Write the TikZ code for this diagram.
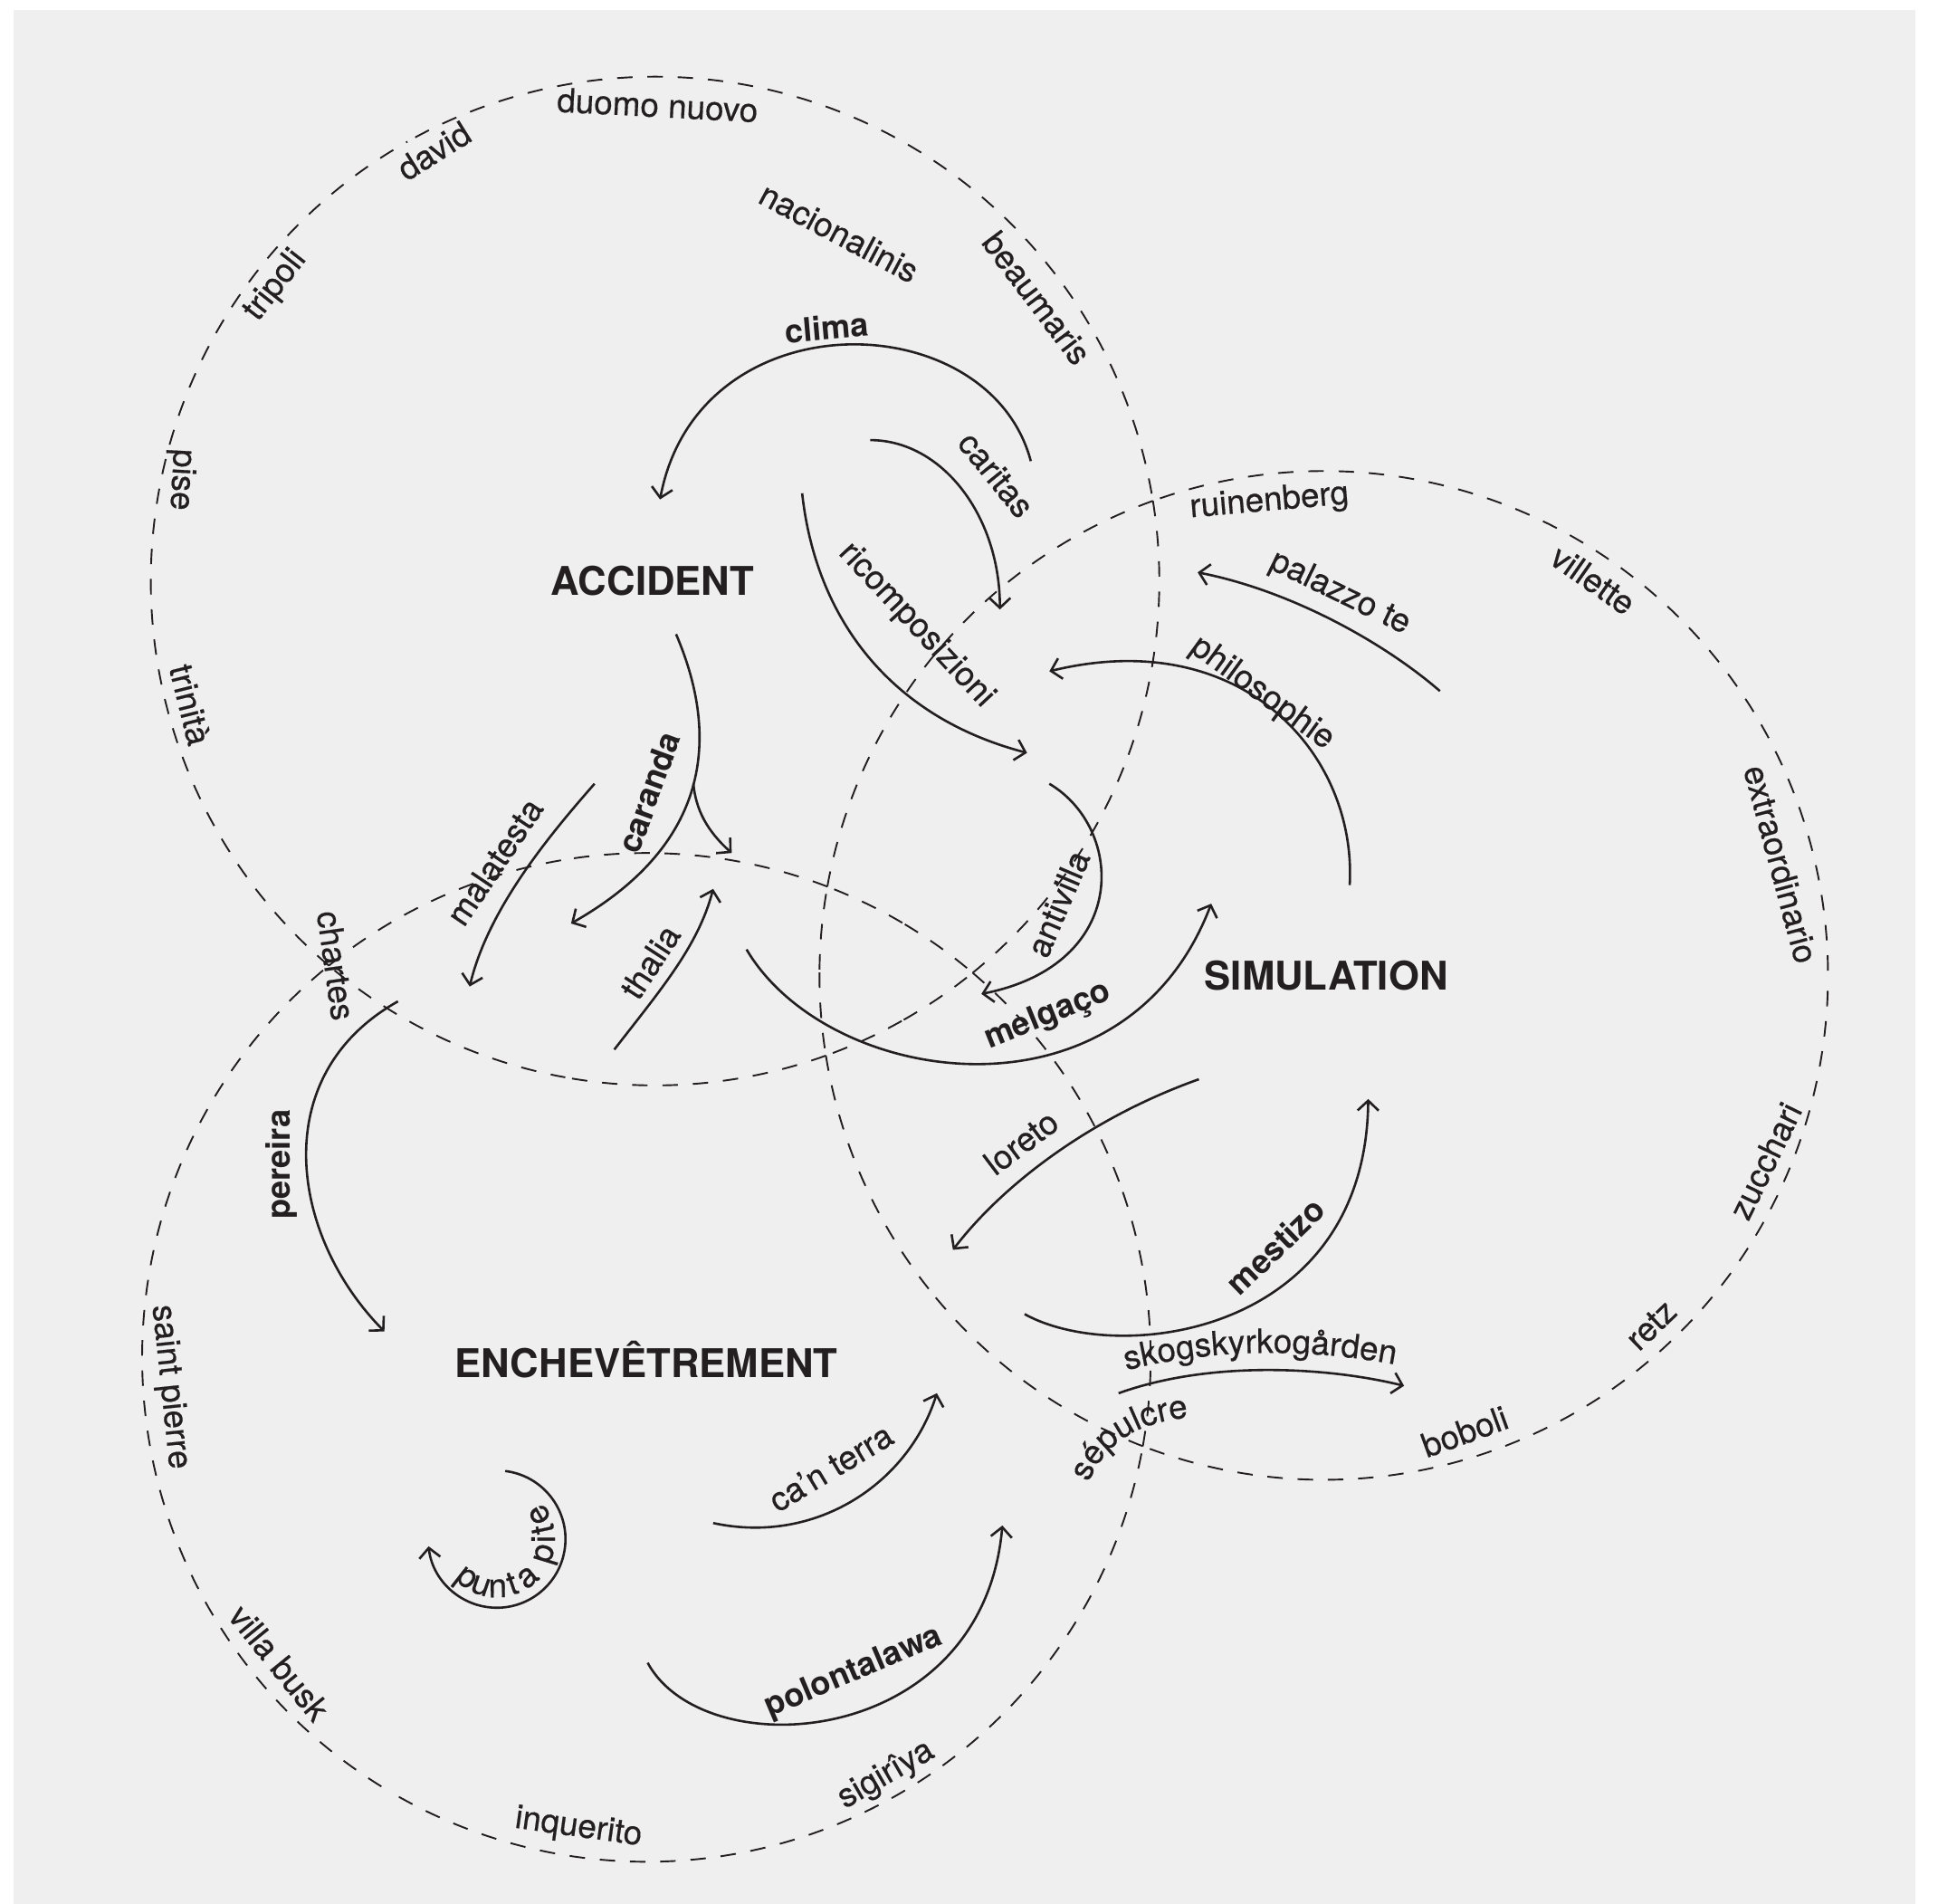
\documentclass[tikz,border=0pt]{standalone}
\usepackage{fontspec}
\setmainfont{TeX Gyre Heros}
\newfontfamily\labfont{TeX Gyre Heros}[FakeBold=0.5]
\usetikzlibrary{arrows.meta,decorations.text}
\definecolor{paper}{HTML}{EFEFEF}
\definecolor{ink}{HTML}{231F20}
\begin{document}
\begin{tikzpicture}[x=1pt,y=1pt,
  ring/.style={circle, minimum size=816pt, inner sep=0pt},
  dashline/.style={draw=ink, line width=1.4pt, dash pattern=on 12.5pt off 12pt},
  gapstart/.style={dash phase=18.5pt},
  flow/.style={draw=ink, line width=1.9pt, -{Straight Barb[length=8pt,width=17pt]}},
  lbl/.style={font=\labfont\fontsize{27}{30}\selectfont, text=ink, inner sep=0pt},
  blbl/.style={font=\fontsize{26.5}{30}\selectfont\bfseries, text=ink, inner sep=0pt},
  ttl/.style={font=\fontsize{32}{36}\selectfont\bfseries, text=ink, inner sep=0pt},
  curvetext/.style={decorate, decoration={text along path, text color=ink, text align=center, text={|\labfont\fontsize{27}{30}\selectfont|#1}}}
]
\useasboundingbox (0,0) rectangle (1568,-1540);
\fill[white] (0,0) rectangle (1568,-1540);
\fill[paper] (11.3,-8.4) rectangle (1549.5,-1540);

% ring centres (named)
\node[ring] (ringA) at (530,-470) {};
\node[ring] (ringS) at (1071,-789) {};
\node[ring] (ringE) at (523,-1098) {};

% dashed rings, drawn arc by arc so that dashes meet at the crossings
% ring A: crossings f=9.14, d=-50.97, e=-70.2, a=-130.31
\draw[dashline] (ringA.center) ++(9.14:408) arc[start angle=9.14, delta angle=-30.06, radius=408];
\draw[dashline] (ringA.center) ++(-50.97:408) arc[start angle=-50.97, delta angle=30.06, radius=408];
\draw[dashline,gapstart] (ringA.center) ++(-50.97:408) arc[start angle=-50.97, delta angle=-9.61, radius=408];
\draw[dashline,gapstart] (ringA.center) ++(-70.2:408) arc[start angle=-70.2, delta angle=9.61, radius=408];
\draw[dashline] (ringA.center) ++(-70.2:408) arc[start angle=-70.2, delta angle=-30.05, radius=408];
\draw[dashline,gapstart] (ringA.center) ++(-130.31:408) arc[start angle=-130.31, delta angle=30.05, radius=408];
\draw[dashline] (ringA.center) ++(229.69:408) arc[start angle=229.69, delta angle=-110.27, radius=408];
\draw[dashline,gapstart] (ringA.center) ++(9.14:408) arc[start angle=9.14, delta angle=110.28, radius=408];
% ring E: crossings a=129.03, c=68.98, d=49.69, b=-10.14
\draw[dashline] (ringE.center) ++(129.03:408) arc[start angle=129.03, delta angle=-30.02, radius=408];
\draw[dashline] (ringE.center) ++(68.98:408) arc[start angle=68.98, delta angle=30.03, radius=408];
\draw[dashline,gapstart] (ringE.center) ++(68.98:408) arc[start angle=68.98, delta angle=-9.64, radius=408];
\draw[dashline,gapstart] (ringE.center) ++(49.69:408) arc[start angle=49.69, delta angle=9.65, radius=408];
\draw[dashline] (ringE.center) ++(49.69:408) arc[start angle=49.69, delta angle=-29.91, radius=408];
\draw[dashline] (ringE.center) ++(-10.14:408) arc[start angle=-10.14, delta angle=29.92, radius=408];
\draw[dashline,gapstart] (ringE.center) ++(-10.14:408) arc[start angle=-10.14, delta angle=-110.42, radius=408];
\draw[dashline,gapstart] (ringE.center) ++(129.03:408) arc[start angle=129.03, delta angle=110.42, radius=408];
% ring S: crossings f=109.8, c=169.86, e=189.14, b=248.98
\draw[dashline] (ringS.center) ++(109.8:408) arc[start angle=109.8, delta angle=30.03, radius=408];
\draw[dashline] (ringS.center) ++(169.86:408) arc[start angle=169.86, delta angle=-30.03, radius=408];
\draw[dashline,gapstart] (ringS.center) ++(169.86:408) arc[start angle=169.86, delta angle=9.64, radius=408];
\draw[dashline,gapstart] (ringS.center) ++(189.14:408) arc[start angle=189.14, delta angle=-9.64, radius=408];
\draw[dashline] (ringS.center) ++(189.14:408) arc[start angle=189.14, delta angle=29.92, radius=408];
\draw[dashline] (ringS.center) ++(248.98:408) arc[start angle=248.98, delta angle=-29.92, radius=408];
\draw[dashline,gapstart] (ringS.center) ++(248.98:408) arc[start angle=248.98, delta angle=110.41, radius=408];
\draw[dashline,gapstart] (ringS.center) ++(109.8:408) arc[start angle=109.8, delta angle=-110.41, radius=408];

% titles
\node[ttl] (accident) at (528,-470) {ACCIDENT};
\node[ttl] (simulation) at (1073,-789) {SIMULATION};
\node[ttl] (enchev) at (523,-1100) {ENCHEVÊTREMENT};

% ring labels
\node[lbl, rotate=-3] (duomo) at (532,-85) {duomo nuovo};
\node[lbl, rotate=32] (david) at (351,-122) {david};
\node[lbl, rotate=52] (tripoli) at (223,-231) {tripoli};
\node[lbl, rotate=-93] (pise) at (146,-388) {pise};
\node[lbl, rotate=-76] (trinita) at (154,-570) {trinità};
\node[lbl, rotate=-28] (nacion) at (679,-188) {nacionalinis};
\node[lbl, rotate=-53] (beaumaris) at (839,-241) {beaumaris};
\node[lbl, rotate=-82] (chartes) at (272,-781) {chartes};
\node[lbl, rotate=5] (ruinen) at (1027,-406) {ruinenberg};
\node[lbl, rotate=-35] (villette) at (1289,-469) {villette};
\node[lbl, rotate=-75] (extra) at (1441,-699) {extraordinario};
\node[lbl, rotate=64] (zucchari) at (1428,-939) {zucchari};
\node[lbl, rotate=44] (retz) at (1336,-1072) {retz};
\node[lbl, rotate=20] (boboli) at (1185,-1158) {boboli};
\node[lbl, rotate=-84] (stpierre) at (137,-1122) {saint pierre};
\node[lbl, rotate=-51] (villabusk) at (226,-1345) {villa busk};
\node[lbl, rotate=-8] (inquerito) at (468,-1479) {inquerito};
\node[lbl, rotate=30] (sigiriya) at (717,-1436) {sigirîya};
\path[curvetext={sépulcre}] (878,-1205) .. controls (890,-1175) and (910,-1150) .. (968,-1146);

% arrow end points
\coordinate (climaS) at (834,-373);   \coordinate (climaE) at (534,-404);
\coordinate (caritasS) at (704,-356); \coordinate (caritasE) at (809,-493);
\coordinate (ricoS) at (649,-399);    \coordinate (ricoE) at (831,-609);
\coordinate (carS) at (547,-513);     \coordinate (carE) at (462,-747);
\coordinate (carK) at (561,-634);     \coordinate (carB) at (592,-690);
\coordinate (malaS) at (481,-634);    \coordinate (malaE) at (380,-798);
\coordinate (thalS) at (497,-849);    \coordinate (thalE) at (577,-719);
\coordinate (melS) at (604,-768);     \coordinate (melE) at (980,-731);
\coordinate (antS) at (849,-634);     \coordinate (antE) at (794,-804);
\coordinate (palS) at (1165,-559);    \coordinate (palE) at (969,-463);
\coordinate (phiS) at (1092,-716);    \coordinate (phiE) at (849,-543);
\coordinate (lorS) at (970,-873);     \coordinate (lorE) at (771,-1011);
\coordinate (mesS) at (829,-1063);    \coordinate (mesE) at (1107,-889);
\coordinate (skoS) at (905,-1127);    \coordinate (skoE) at (1136,-1121);
\coordinate (perS) at (322,-810);     \coordinate (perE) at (311,-1077);
\coordinate (canS) at (577,-1232);    \coordinate (canE) at (758,-1127);
\coordinate (polS) at (524,-1345);    \coordinate (polE) at (811,-1234);
\coordinate (punC) at (402,-1245);

% arrows
\draw[flow] (climaS) .. controls (800,-245) and (565,-240) .. (climaE);
\draw[flow] (caritasS) .. controls (762,-356) and (809,-417) .. (caritasE);
\draw[flow] (ricoS) .. controls (660,-500) and (720,-580) .. (ricoE);
\draw[flow] (carS) .. controls (580,-590) and (580,-680) .. (carE);
\draw[flow] (carK) .. controls (563,-655) and (572,-672) .. (carB);
\draw[flow] (malaS) .. controls (445,-675) and (395,-735) .. (malaE);
\draw[flow] (thalS) .. controls (535,-800) and (565,-765) .. (thalE);
\draw[flow] (melS) .. controls (670,-880) and (910,-915) .. (melE);
\draw[flow] (antS) .. controls (910,-670) and (915,-780) .. (antE);
\draw[flow] (palS) .. controls (1120,-520) and (1045,-478) .. (palE);
\draw[flow] (phiS) .. controls (1098,-610) and (1005,-505) .. (phiE);
\draw[flow] (lorS) .. controls (880,-905) and (810,-960) .. (lorE);
\draw[flow] (mesS) .. controls (905,-1105) and (1105,-1080) .. (mesE);
\draw[flow] (skoS) .. controls (980,-1100) and (1075,-1106) .. (skoE);
\draw[flow] (perS) .. controls (215,-870) and (235,-1000) .. (perE);
\draw[flow] (canS) .. controls (660,-1250) and (735,-1200) .. (canE);
\draw[flow] (polS) .. controls (570,-1430) and (795,-1415) .. (polE);
\draw[flow] (punC) ++(83:55.5) arc[start angle=83, end angle=-174, radius=55.5];

% arrow labels
\node[blbl, rotate=5] (clima) at (669,-265) {clima};
\node[lbl, rotate=-51] (caritas) at (806,-384) {caritas};
\node[lbl, rotate=-47] (ricomp) at (741,-506) {ricomposizioni};
\node[blbl, rotate=70] (caranda) at (525,-641) {caranda};
\node[lbl, rotate=56] (malatesta) at (400,-697) {malatesta};
\node[lbl, rotate=57] (thalia) at (526,-778) {thalia};
\node[blbl, rotate=22] (melgaco) at (848,-822) {melgaço};
\node[lbl, rotate=67] (antivilla) at (856,-731) {antivilla};
\node[lbl, rotate=-26] (palazzo) at (1084,-480) {palazzo te};
\node[lbl, rotate=-36] (philo) at (1021,-561) {philosophie};
\node[lbl, rotate=37] (loreto) at (826,-924) {loreto};
\node[blbl, rotate=44] (mestizo) at (1032,-1008) {mestizo};
\node[blbl, rotate=90] (pereira) at (228,-942) {pereira};
\node[lbl, rotate=31] (canterra) at (672,-1187) {ca’n terra};
\node[blbl, rotate=23] (polont) at (691,-1353) {polontalawa};
\path[curvetext={skogskyrkogården}] (905,-1110) .. controls (980,-1090) and (1060,-1090) .. (1135,-1105);
\foreach \ch/\ang [count=\i] in {p/-128, u/-109, n/-89, t/-71, a/-51, p/-17, i/0, t/12, e/30} {
  \path (punC) ++(\ang:47) node[lbl, anchor=base, rotate=\ang+90] (punta\i) {\ch};
}
\end{tikzpicture}
\end{document}
